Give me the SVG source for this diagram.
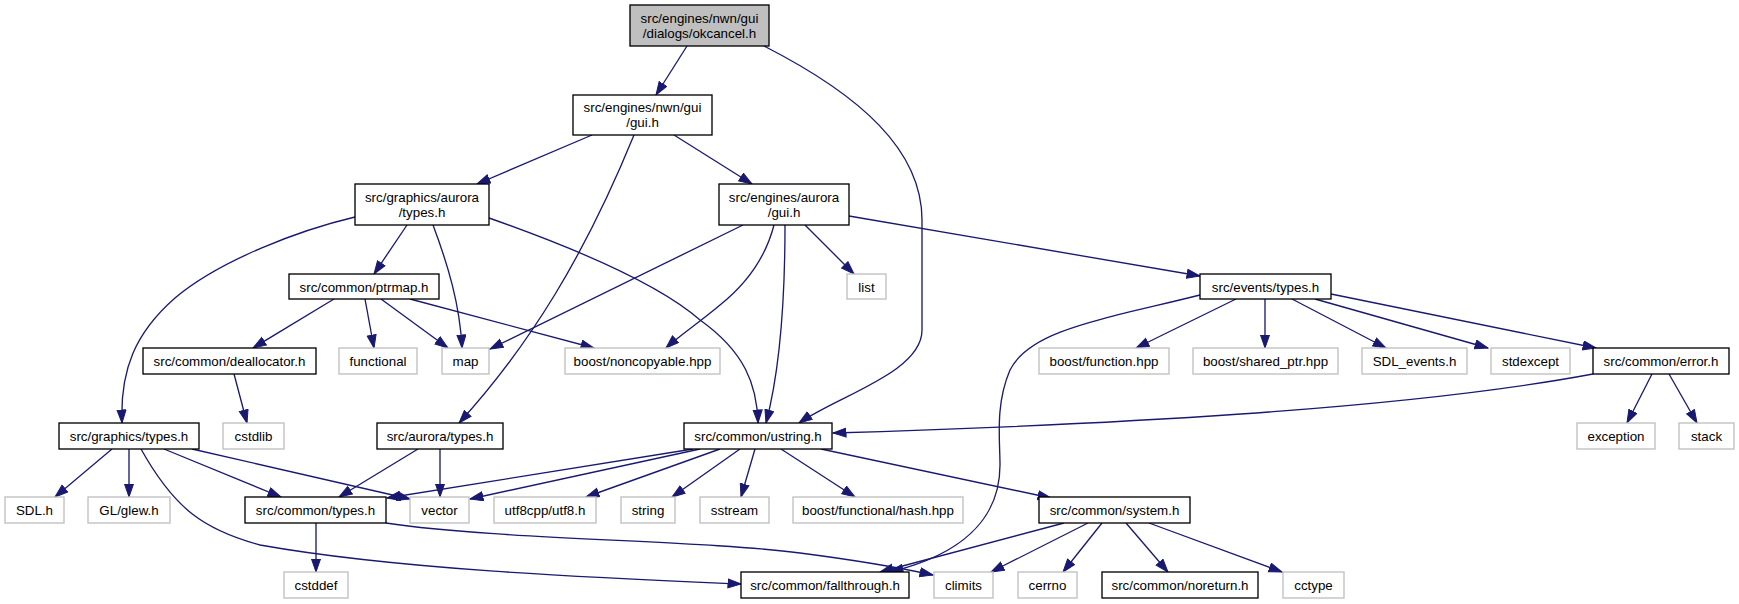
<svg xmlns="http://www.w3.org/2000/svg" width="1739" height="604" viewBox="0 0 1739 604">
<style>
.n rect{fill:#ffffff;stroke:#000000;stroke-width:1.33}
.x rect{fill:#ffffff;stroke:#bfbfbf;stroke-width:1.33}
.r rect{fill:#bfbfbf;stroke:#000000;stroke-width:1.33}
text{font-family:"Liberation Sans",Arial,Helvetica,sans-serif;font-size:13.33px;text-anchor:middle;fill:#000000}
#edges path{fill:none;stroke:#191970;stroke-width:1.33;marker-end:url(#ah)}
</style>
<defs>
<marker id="ah" markerUnits="userSpaceOnUse" markerWidth="15" markerHeight="12" refX="13.5" refY="5" orient="auto">
<path d="M0.5,0.5 L13.5,5 L0.5,9.5 z" fill="#191970" stroke="#191970" stroke-width="1"/>
</marker>
</defs>
<rect width="1739" height="604" fill="#ffffff"/>
<g id="edges">
<path d="M687,46 L656,95"/>
<path d="M764,46 C860,95 922,150 922,220 L922,330 C922,372 840,395 799,423"/>
<path d="M592,135 L477,184"/>
<path d="M674,135 L752,184"/>
<path d="M634,135 C585,255 530,345 459,423"/>
<path d="M407,225 L374,274"/>
<path d="M433,225 C448,265 460,305 462,348"/>
<path d="M355,217 C300,230 220,260 175,298 C135,333 120,370 122,423"/>
<path d="M489,218 C580,250 660,285 700,320 C745,352 757,385 758,423"/>
<path d="M805,225 L854,274"/>
<path d="M849,216 L1200,276"/>
<path d="M743,225 L490,349"/>
<path d="M774,225 C765,260 745,285 720,305 C700,322 680,335 666,348"/>
<path d="M785,225 C785,300 780,370 766,423"/>
<path d="M334,299 L253,348"/>
<path d="M365,299 L374,348"/>
<path d="M381,299 L448,348"/>
<path d="M410,299 L594,348"/>
<path d="M1200,295 C1100,320 1030,330 1010,370 C995,405 1000,440 1000,465 C1000,520 960,555 890,572"/>
<path d="M1236,299 L1136,348"/>
<path d="M1265,299 L1265,348"/>
<path d="M1292,299 L1386,348"/>
<path d="M1315,299 L1488,348"/>
<path d="M1331,294 L1596,348"/>
<path d="M1593,374 C1400,410 1100,425 833,433"/>
<path d="M1652,374 L1627,423"/>
<path d="M1669,374 L1697,423"/>
<path d="M693,449 L387,498"/>
<path d="M700,449 L470,499"/>
<path d="M720,449 L586,497"/>
<path d="M740,449 L672,497"/>
<path d="M755,449 L741,497"/>
<path d="M781,449 L855,497"/>
<path d="M821,449 L1051,498"/>
<path d="M112,449 L55,497"/>
<path d="M129,449 L129,497"/>
<path d="M164,449 L281,497"/>
<path d="M192,449 L410,499"/>
<path d="M141,449 C175,510 205,530 260,545 C400,570 600,578 741,584"/>
<path d="M234,374 L247,423"/>
<path d="M418,449 L339,497"/>
<path d="M440,449 L440,497"/>
<path d="M316,523 L316,572"/>
<path d="M386,523 C500,540 700,540 800,553 C870,562 910,570 933,575"/>
<path d="M1064,523 L880,572"/>
<path d="M1088,523 L991,572"/>
<path d="M1102,523 L1063,572"/>
<path d="M1126,523 L1168,572"/>
<path d="M1149,523 L1282,572"/>
</g>
<g id="n_okcancel" class="r"><rect x="630" y="5" width="139" height="41"/><text x="699.5" y="22.5">src/engines/nwn/gui</text><text x="699.5" y="37.5">/dialogs/okcancel.h</text></g>
<g id="n_nwngui" class="n"><rect x="573" y="95" width="139" height="40"/><text x="642.5" y="112">src/engines/nwn/gui</text><text x="642.5" y="127">/gui.h</text></g>
<g id="n_gatypes" class="n"><rect x="355" y="184" width="134" height="41"/><text x="422" y="201.5">src/graphics/aurora</text><text x="422" y="216.5">/types.h</text></g>
<g id="n_eagui" class="n"><rect x="719" y="184" width="130" height="41"/><text x="784" y="201.5">src/engines/aurora</text><text x="784" y="216.5">/gui.h</text></g>
<g id="n_ptrmap" class="n"><rect x="289" y="274" width="150" height="25"/><text x="364" y="291.5">src/common/ptrmap.h</text></g>
<g id="n_list" class="x"><rect x="847" y="274" width="39" height="25"/><text x="866.5" y="291.5">list</text></g>
<g id="n_evtypes" class="n"><rect x="1200" y="274" width="131" height="25"/><text x="1265.5" y="291.5">src/events/types.h</text></g>
<g id="n_dealloc" class="n"><rect x="143" y="348" width="173" height="26"/><text x="229.5" y="365.5">src/common/deallocator.h</text></g>
<g id="n_functional" class="x"><rect x="339" y="348" width="78" height="26"/><text x="378" y="365.5">functional</text></g>
<g id="n_map" class="x"><rect x="442" y="348" width="47" height="26"/><text x="465.5" y="365.5">map</text></g>
<g id="n_noncopy" class="x"><rect x="565" y="348" width="155" height="26"/><text x="642.5" y="365.5">boost/noncopyable.hpp</text></g>
<g id="n_bfunction" class="x"><rect x="1039" y="348" width="130" height="26"/><text x="1104" y="365.5">boost/function.hpp</text></g>
<g id="n_sharedptr" class="x"><rect x="1193" y="348" width="145" height="26"/><text x="1265.5" y="365.5">boost/shared_ptr.hpp</text></g>
<g id="n_sdlevents" class="x"><rect x="1362" y="348" width="105" height="26"/><text x="1414.5" y="365.5">SDL_events.h</text></g>
<g id="n_stdexcept" class="x"><rect x="1491" y="348" width="79" height="26"/><text x="1530.5" y="365.5">stdexcept</text></g>
<g id="n_error" class="n"><rect x="1593" y="348" width="136" height="26"/><text x="1661" y="365.5">src/common/error.h</text></g>
<g id="n_gtypes" class="n"><rect x="59" y="423" width="140" height="26"/><text x="129" y="440.5">src/graphics/types.h</text></g>
<g id="n_cstdlib" class="x"><rect x="223" y="423" width="61" height="26"/><text x="253.5" y="440.5">cstdlib</text></g>
<g id="n_atypes" class="n"><rect x="377" y="423" width="126" height="26"/><text x="440" y="440.5">src/aurora/types.h</text></g>
<g id="n_ustring" class="n"><rect x="684" y="423" width="148" height="26"/><text x="758" y="440.5">src/common/ustring.h</text></g>
<g id="n_exception" class="x"><rect x="1577" y="423" width="78" height="26"/><text x="1616" y="440.5">exception</text></g>
<g id="n_stack" class="x"><rect x="1679" y="423" width="55" height="26"/><text x="1706.5" y="440.5">stack</text></g>
<g id="n_sdl" class="x"><rect x="5" y="497" width="59" height="26"/><text x="34.5" y="514.5">SDL.h</text></g>
<g id="n_glew" class="x"><rect x="88" y="497" width="82" height="26"/><text x="129" y="514.5">GL/glew.h</text></g>
<g id="n_ctypes" class="n"><rect x="245" y="497" width="141" height="26"/><text x="315.5" y="514.5">src/common/types.h</text></g>
<g id="n_vector" class="x"><rect x="410" y="497" width="59" height="26"/><text x="439.5" y="514.5">vector</text></g>
<g id="n_utf8" class="x"><rect x="494" y="497" width="102" height="26"/><text x="545" y="514.5">utf8cpp/utf8.h</text></g>
<g id="n_string" class="x"><rect x="621" y="497" width="54" height="26"/><text x="648" y="514.5">string</text></g>
<g id="n_sstream" class="x"><rect x="700" y="497" width="69" height="26"/><text x="734.5" y="514.5">sstream</text></g>
<g id="n_hash" class="x"><rect x="793" y="497" width="170" height="26"/><text x="878" y="514.5">boost/functional/hash.hpp</text></g>
<g id="n_system" class="n"><rect x="1039" y="497" width="151" height="26"/><text x="1114.5" y="514.5">src/common/system.h</text></g>
<g id="n_cstddef" class="x"><rect x="284" y="572" width="64" height="26"/><text x="316" y="589.5">cstddef</text></g>
<g id="n_fallthrough" class="n"><rect x="741" y="572" width="168" height="26"/><text x="825" y="589.5">src/common/fallthrough.h</text></g>
<g id="n_climits" class="x"><rect x="934" y="572" width="59" height="26"/><text x="963.5" y="589.5">climits</text></g>
<g id="n_cerrno" class="x"><rect x="1018" y="572" width="59" height="26"/><text x="1047.5" y="589.5">cerrno</text></g>
<g id="n_noreturn" class="n"><rect x="1102" y="572" width="156" height="26"/><text x="1180" y="589.5">src/common/noreturn.h</text></g>
<g id="n_cctype" class="x"><rect x="1283" y="572" width="61" height="26"/><text x="1313.5" y="589.5">cctype</text></g>
</svg>
